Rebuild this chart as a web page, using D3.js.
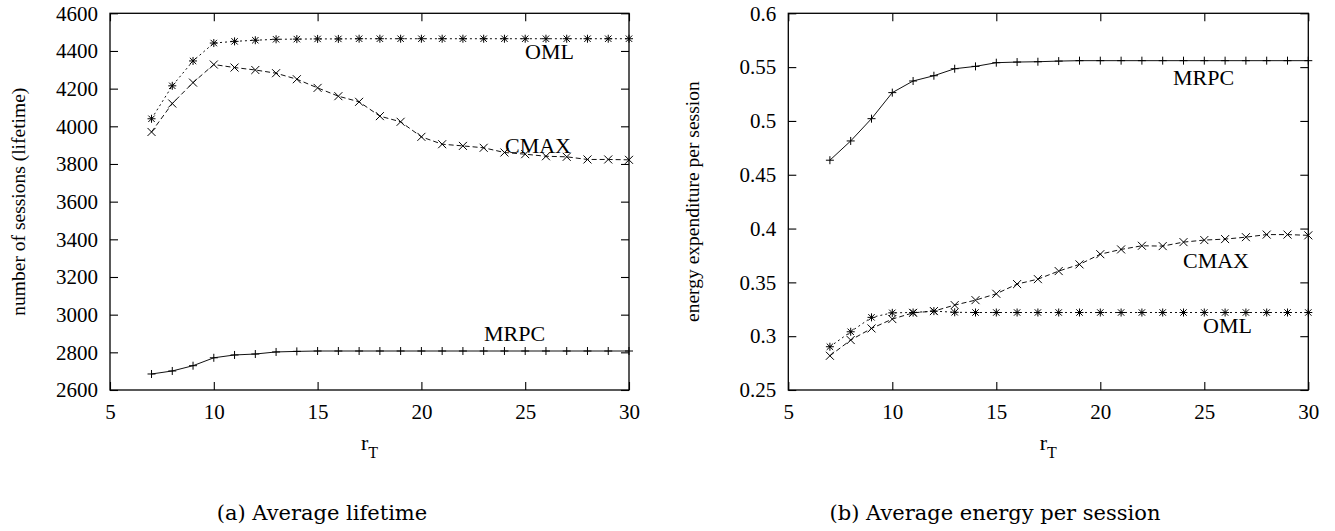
<!DOCTYPE html>
<html>
<head>
<meta charset="utf-8">
<script src="https://cdn.jsdelivr.net/npm/d3@7"></script>
<style>
  body { margin: 0; background: #fff; }
</style>
</head>
<body>
<div id="chart-container"></div>
<script>
// values
var rT = [7, 8, 9, 10, 11, 12, 13, 14, 15, 16, 17, 18, 19, 20, 21, 22, 23, 24, 25, 26, 27, 28, 29, 30];
var xTicks = [5, 10, 15, 20, 25, 30];

// (a) lifetime
var lifeOML  = [4040, 4215, 4347, 4442, 4451, 4457, 4462, 4463, 4464, 4464, 4465, 4465, 4465, 4465, 4465, 4465, 4465, 4465, 4465, 4465, 4465, 4465, 4465, 4465];
var lifeCMAX = [3970, 4121, 4232, 4328, 4312, 4299, 4282, 4250, 4204, 4160, 4130, 4054, 4024, 3944, 3905, 3896, 3886, 3861, 3852, 3841, 3838, 3824, 3824, 3822];
var lifeMRPC = [2685, 2701, 2729, 2771, 2786, 2791, 2802, 2805, 2807, 2807, 2807, 2807, 2807, 2807, 2807, 2807, 2807, 2807, 2807, 2807, 2807, 2807, 2807, 2807];
var lifeTicks = [2600, 2800, 3000, 3200, 3400, 3600, 3800, 4000, 4200, 4400, 4600];

// (b) energy per session
var enMRPC = [0.4635, 0.4814, 0.5021, 0.5263, 0.5371, 0.5420, 0.5485, 0.5507, 0.5541, 0.5547, 0.5550, 0.5556, 0.5560, 0.5560, 0.5560, 0.5560, 0.5560, 0.5560, 0.5560, 0.5560, 0.5560, 0.5560, 0.5560, 0.5560];
var enCMAX = [0.2818, 0.2964, 0.3072, 0.3159, 0.3217, 0.3233, 0.3289, 0.3335, 0.3394, 0.3484, 0.3530, 0.3605, 0.3667, 0.3762, 0.3806, 0.3840, 0.3837, 0.3874, 0.3893, 0.3902, 0.3920, 0.3944, 0.3944, 0.3937];
var enOML  = [0.2902, 0.3041, 0.3175, 0.3217, 0.3220, 0.3233, 0.3222, 0.3220, 0.3220, 0.3220, 0.3220, 0.3220, 0.3220, 0.3220, 0.3220, 0.3220, 0.3220, 0.3220, 0.3220, 0.3220, 0.3220, 0.3220, 0.3220, 0.3220];
var enTicks = [0.25, 0.3, 0.35, 0.4, 0.45, 0.5, 0.55, 0.6];

var W = 1335, H = 531;
var plotTop = 13.3, plotBottom = 390;
var SERIF = "'Liberation Serif', 'Times New Roman', serif";

var svg = d3.select("#chart-container")
    .append("svg")
    .attr("width", W)
    .attr("height", H)
    .attr("font-family", SERIF);

// marker shapes
function plus(g, s) {
    g.append("path").attr("d", `M${-s},0H${s}M0,${-s}V${s}`);
}
function cross(g, s) {
    g.append("path").attr("d", `M${-s},${-s}L${s},${s}M${-s},${s}L${s},${-s}`);
}
function star(g, s) {
    plus(g, s);
    cross(g, s * 0.8);
}

function panel(cfg) {
    var x = d3.scaleLinear().domain([5, 30]).range([cfg.left, cfg.right]);
    var y = d3.scaleLinear().domain(cfg.yDomain).range([plotBottom, plotTop]);

    var g = svg.append("g");

    // frame
    g.append("rect")
        .attr("x", cfg.left).attr("y", plotTop)
        .attr("width", cfg.right - cfg.left).attr("height", plotBottom - plotTop)
        .attr("fill", "none").attr("stroke", "#000").attr("stroke-width", 1.3);

    var xAxis = d3.axisBottom(x).tickValues(xTicks).tickSizeInner(-8).tickSizeOuter(0).tickPadding(14);
    var xTop = d3.axisTop(x).tickValues(xTicks).tickSizeInner(-8).tickSizeOuter(0).tickFormat("");
    var yAxis = d3.axisLeft(y).tickValues(cfg.yTicks).tickSizeInner(-8).tickSizeOuter(0).tickPadding(12).tickFormat(cfg.fmt);
    var yRight = d3.axisRight(y).tickValues(cfg.yTicks).tickSizeInner(-8).tickSizeOuter(0).tickFormat("");

    [
        [xAxis, `translate(0,${plotBottom})`],
        [xTop, `translate(0,${plotTop})`],
        [yAxis, `translate(${cfg.left},0)`],
        [yRight, `translate(${cfg.right},0)`]
    ].forEach(function(a) {
        var ax = g.append("g").attr("transform", a[1]).call(a[0]);
        ax.attr("font-family", SERIF).attr("font-size", 21);
        ax.select(".domain").remove();
        ax.selectAll("line").attr("stroke", "#000").attr("stroke-width", 1.1);
        ax.selectAll("text").attr("font-family", SERIF).attr("font-size", 21).attr("fill", "#000");
    });

    // series
    cfg.series.forEach(function(s) {
        var pts = rT.map(function(r, i) { return [r, s.values[i]]; });
        g.append("path")
            .datum(pts)
            .attr("fill", "none")
            .attr("stroke", "#111")
            .attr("stroke-width", 1)
            .attr("stroke-dasharray", s.dash)
            .attr("d", d3.line().x(function(d) { return x(d[0]); }).y(function(d) { return y(d[1]); }));

        var m = g.append("g").attr("stroke", "#000").attr("stroke-width", 1).attr("fill", "none");
        pts.forEach(function(d) {
            var mg = m.append("g").attr("transform", `translate(${x(d[0])},${y(d[1])})`);
            s.marker(mg, 4);
        });

        g.append("text")
            .attr("x", s.label[0]).attr("y", s.label[1])
            .attr("font-family", SERIF)
            .attr("font-size", 22)
            .text(s.name);
    });

    // x label r_T
    var xl = g.append("text")
        .attr("x", (cfg.left + cfg.right) / 2)
        .attr("y", 450)
        .attr("text-anchor", "middle")
        .attr("font-family", SERIF)
        .attr("font-size", 22);
    xl.append("tspan").text("r");
    xl.append("tspan").attr("dy", 8).attr("font-size", 16).text("T");

    // y label
    g.append("text")
        .attr("transform", `translate(${cfg.yLabelX},${(plotTop + plotBottom) / 2}) rotate(-90)`)
        .attr("text-anchor", "middle")
        .attr("font-family", SERIF)
        .attr("font-size", 19.5)
        .text(cfg.yLabel);

    // caption
    g.append("text")
        .attr("x", cfg.capX)
        .attr("y", 520)
        .attr("text-anchor", "middle")
        .attr("font-family", "'DejaVu Serif', serif")
        .attr("font-size", 21)
        .text(cfg.caption);
}

panel({
    left: 110, right: 629,
    yDomain: [2600, 4600], yTicks: lifeTicks, fmt: d3.format("d"),
    yLabel: "number of sessions (lifetime)", yLabelX: 25,
    caption: "(a) Average lifetime", capX: 322,
    series: [
        { name: "OML", values: lifeOML, dash: "2,3", marker: star, label: [525, 59] },
        { name: "CMAX", values: lifeCMAX, dash: "5,3", marker: cross, label: [505, 153] },
        { name: "MRPC", values: lifeMRPC, dash: null, marker: plus, label: [484, 341] }
    ]
});

panel({
    left: 788.3, right: 1308.3,
    yDomain: [0.25, 0.6], yTicks: enTicks, fmt: function(d) { return String(+d.toFixed(2)); },
    yLabel: "energy expenditure per session", yLabelX: 699,
    caption: "(b) Average energy per session", capX: 995,
    series: [
        { name: "MRPC", values: enMRPC, dash: null, marker: plus, label: [1173, 85] },
        { name: "CMAX", values: enCMAX, dash: "5,3", marker: cross, label: [1183, 268] },
        { name: "OML", values: enOML, dash: "2,3", marker: star, label: [1203, 333] }
    ]
});
</script>
</body>
</html>
